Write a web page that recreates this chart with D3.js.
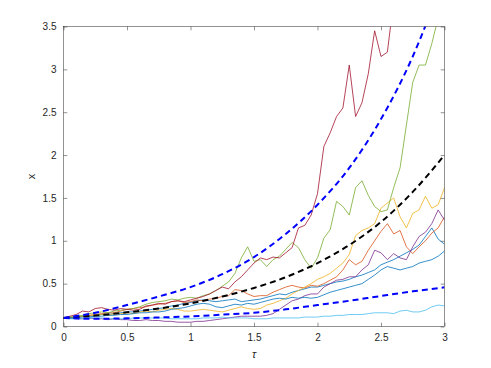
<!DOCTYPE html>
<html>
<head>
<meta charset="utf-8">
<script src="https://cdn.jsdelivr.net/npm/d3@7"></script>
<style>
  body { margin: 0; background: #fff; }
  text { font-family: "Liberation Sans", Helvetica, Arial, sans-serif; fill: #262626; }
</style>
</head>
<body>
<svg id="chart" width="491" height="368"></svg>
<script>
// time grid of the sampled paths (step 0.05) and of the dashed curves (step 0.25)
let tPath = d3.range(61).map(i => i / 20);
let tDash = [0, 0.25, 0.5, 0.75, 1, 1.25, 1.5, 1.75, 2, 2.25, 2.5, 2.75, 3];

// dashed curves: mean and the two bounds
let meanLine = [0.10, 0.128, 0.165, 0.21, 0.27, 0.35, 0.45, 0.575, 0.74, 0.95, 1.22, 1.57, 2.0];
let upperLine = [0.10, 0.16, 0.25, 0.35, 0.46, 0.61, 0.81, 1.08, 1.42, 1.85, 2.42, 3.15, 4.1];
let lowerLine = [0.10, 0.09, 0.095, 0.105, 0.118, 0.138, 0.16, 0.2, 0.25, 0.3, 0.356, 0.41, 0.457];

// sample paths
let pathBlue1 = [0.10, 0.10, 0.11, 0.12, 0.12, 0.13, 0.14, 0.14, 0.15, 0.16,
  0.17, 0.17, 0.18, 0.19, 0.20, 0.21, 0.22, 0.24, 0.25, 0.27,
  0.28, 0.30, 0.31, 0.30, 0.29, 0.30, 0.31, 0.32, 0.29, 0.30,
  0.31, 0.32, 0.34, 0.36, 0.38, 0.37, 0.40, 0.42, 0.44, 0.46,
  0.46, 0.48, 0.50, 0.52, 0.53, 0.55, 0.58, 0.60, 0.63, 0.66,
  0.72, 0.75, 0.78, 0.82, 0.86, 0.90, 0.95, 1.05, 1.15, 1.02, 0.96];
let pathOrange = [0.10, 0.10, 0.11, 0.12, 0.13, 0.14, 0.15, 0.16, 0.16, 0.18,
  0.20, 0.21, 0.22, 0.23, 0.25, 0.26, 0.27, 0.29, 0.30, 0.28,
  0.29, 0.31, 0.30, 0.32, 0.33, 0.35, 0.36, 0.43, 0.42, 0.38,
  0.35, 0.36, 0.36, 0.40, 0.43, 0.46, 0.48, 0.46, 0.45, 0.48,
  0.47, 0.50, 0.54, 0.58, 0.66, 0.78, 0.72, 0.76, 0.89, 1.00,
  1.11, 1.20, 1.08, 1.12, 0.93, 0.85, 0.93, 1.00, 1.09, 1.15, 1.28];
let pathYellow = [0.10, 0.11, 0.10, 0.12, 0.13, 0.13, 0.14, 0.13, 0.15, 0.15,
  0.16, 0.15, 0.17, 0.18, 0.17, 0.19, 0.20, 0.21, 0.20, 0.18,
  0.18, 0.19, 0.20, 0.19, 0.18, 0.17, 0.19, 0.21, 0.23, 0.21,
  0.20, 0.21, 0.25, 0.27, 0.30, 0.33, 0.38, 0.42, 0.46, 0.50,
  0.55, 0.58, 0.62, 0.68, 0.74, 0.84, 1.06, 1.12, 1.15, 1.20,
  1.38, 1.44, 1.50, 1.28, 1.15, 1.32, 1.36, 1.52, 1.38, 1.42, 1.62];
let pathPurple = [0.10, 0.10, 0.09, 0.09, 0.10, 0.09, 0.09, 0.08, 0.09, 0.08,
  0.08, 0.07, 0.07, 0.08, 0.07, 0.07, 0.06, 0.06, 0.05, 0.05,
  0.05, 0.06, 0.06, 0.07, 0.08, 0.09, 0.10, 0.11, 0.12, 0.12,
  0.12, 0.12, 0.13, 0.15, 0.20, 0.25, 0.30, 0.32, 0.36, 0.38,
  0.38, 0.46, 0.50, 0.54, 0.55, 0.58, 0.58, 0.66, 0.72, 0.89,
  0.86, 0.78, 0.85, 0.80, 0.78, 0.93, 1.05, 1.10, 1.20, 1.36, 1.24];
let pathGreen = [0.10, 0.11, 0.12, 0.13, 0.15, 0.16, 0.17, 0.16, 0.18, 0.19,
  0.20, 0.21, 0.23, 0.26, 0.28, 0.29, 0.30, 0.32, 0.31, 0.33,
  0.34, 0.33, 0.36, 0.38, 0.42, 0.47, 0.52, 0.62, 0.80, 0.93,
  0.76, 0.78, 0.70, 0.78, 0.82, 0.90, 0.98, 0.92, 0.78, 0.68,
  0.80, 1.03, 1.13, 1.46, 1.40, 1.30, 1.62, 1.70, 1.53, 1.40,
  1.34, 1.36, 1.62, 1.85, 2.35, 2.85, 3.05, 3.05, 3.30, 3.60, 3.80];
let pathLightBlue = [0.10, 0.09, 0.09, 0.09, 0.10, 0.10, 0.10, 0.09, 0.09, 0.09,
  0.09, 0.10, 0.10, 0.10, 0.10, 0.10, 0.10, 0.09, 0.09, 0.09,
  0.09, 0.09, 0.10, 0.10, 0.10, 0.11, 0.10, 0.10, 0.10, 0.10,
  0.09, 0.09, 0.09, 0.10, 0.10, 0.10, 0.10, 0.10, 0.11, 0.11,
  0.11, 0.12, 0.12, 0.13, 0.13, 0.14, 0.14, 0.14, 0.15, 0.16,
  0.16, 0.16, 0.15, 0.18, 0.19, 0.17, 0.17, 0.19, 0.23, 0.25, 0.24];
let pathRed = [0.10, 0.12, 0.14, 0.18, 0.17, 0.21, 0.22, 0.20, 0.19, 0.21,
  0.20, 0.19, 0.20, 0.24, 0.25, 0.27, 0.26, 0.29, 0.30, 0.29,
  0.31, 0.33, 0.35, 0.38, 0.42, 0.46, 0.44, 0.52, 0.58, 0.66,
  0.74, 0.80, 0.78, 0.81, 0.80, 0.86, 0.92, 1.15, 1.18, 1.30,
  1.55, 2.10, 2.26, 2.45, 2.55, 3.05, 2.45, 2.61, 2.95, 3.45,
  3.15, 3.20, 3.80, 4.00, 4.20, 4.50, 4.30, 4.80, 5.00, 5.20, 5.50];
let pathBlue2 = [0.10, 0.10, 0.10, 0.11, 0.11, 0.12, 0.12, 0.13, 0.13, 0.14,
  0.14, 0.15, 0.16, 0.16, 0.17, 0.17, 0.18, 0.20, 0.21, 0.22,
  0.24, 0.26, 0.27, 0.26, 0.23, 0.22, 0.24, 0.26, 0.25, 0.27,
  0.26, 0.28, 0.30, 0.32, 0.33, 0.32, 0.34, 0.33, 0.34, 0.33,
  0.34, 0.37, 0.40, 0.42, 0.44, 0.46, 0.48, 0.50, 0.55, 0.60,
  0.66, 0.70, 0.68, 0.66, 0.68, 0.70, 0.74, 0.76, 0.78, 0.82, 0.88];

let paths = [pathBlue1, pathOrange, pathYellow, pathPurple, pathGreen, pathLightBlue, pathRed, pathBlue2];
let pathColors = ["#0072BD", "#D95319", "#EDB120", "#7E2F8E", "#77AC30", "#4DBEEE", "#A2142F", "#0072BD"];

let xTicks = [0, 0.5, 1, 1.5, 2, 2.5, 3];
let yTicks = [0, 0.5, 1, 1.5, 2, 2.5, 3, 3.5];

let svg = d3.select("#chart");
let plotLeft = 63.5, plotRight = 444.5, plotTop = 26.5, plotBottom = 326.5;

let xScale = d3.scaleLinear().domain([0, 3]).range([plotLeft, plotRight]);
let yScale = d3.scaleLinear().domain([0, 3.5]).range([plotBottom, plotTop]);

svg.append("defs").append("clipPath").attr("id", "plotClip")
  .append("rect")
  .attr("x", plotLeft).attr("y", plotTop)
  .attr("width", plotRight - plotLeft).attr("height", plotBottom - plotTop);

let plot = svg.append("g").attr("clip-path", "url(#plotClip)");

//paths
let pathLine = d3.line()
  .x((d, i) => xScale(tPath[i]))
  .y(d => yScale(d));

paths.forEach(function(p, k) {
  plot.append("path")
    .attr("d", pathLine(p))
    .attr("fill", "none")
    .attr("stroke", pathColors[k])
    .attr("stroke-width", 0.8)
    .attr("stroke-linejoin", "round");
});

//dashed curves
let dashLine = d3.line()
  .x((d, i) => xScale(tDash[i]))
  .y(d => yScale(d))
  .curve(d3.curveMonotoneX);

[[meanLine, "#000000"], [upperLine, "#0000FF"], [lowerLine, "#0000FF"]].forEach(function(c) {
  plot.append("path")
    .attr("d", dashLine(c[0]))
    .attr("fill", "none")
    .attr("stroke", c[1])
    .attr("stroke-width", 2)
    .attr("stroke-dasharray", "6,4");
});

//axes with inward ticks on all four sides
let axisColor = "#262626";
let tickLen = 3.8;

svg.append("rect")
  .attr("x", plotLeft).attr("y", plotTop)
  .attr("width", plotRight - plotLeft).attr("height", plotBottom - plotTop)
  .attr("fill", "none")
  .attr("stroke", axisColor)
  .attr("stroke-width", 0.5);

let gx = svg.append("g").attr("transform", "translate(0," + plotBottom + ")")
  .call(d3.axisBottom(xScale).tickValues(xTicks).tickSize(-tickLen).tickPadding(7).tickFormat(d3.format("")));
let gxTop = svg.append("g").attr("transform", "translate(0," + plotTop + ")")
  .call(d3.axisTop(xScale).tickValues(xTicks).tickSize(-tickLen).tickFormat(""));
let gy = svg.append("g").attr("transform", "translate(" + plotLeft + ",0)")
  .call(d3.axisLeft(yScale).tickValues(yTicks).tickSize(-tickLen).tickPadding(7).tickFormat(d3.format("")));
let gyRight = svg.append("g").attr("transform", "translate(" + plotRight + ",0)")
  .call(d3.axisRight(yScale).tickValues(yTicks).tickSize(-tickLen).tickFormat(""));

[gx, gxTop, gy, gyRight].forEach(function(g) {
  g.select(".domain").remove();
  g.selectAll(".tick line").attr("stroke", axisColor).attr("stroke-width", 0.5);
  g.selectAll(".tick text").attr("font-size", 10).attr("fill", axisColor)
    .attr("font-family", "'Liberation Sans', Helvetica, Arial, sans-serif");
});

//axis labels
svg.append("text")
  .attr("transform", "translate(35," + ((plotTop + plotBottom) / 2) + ") rotate(-90)")
  .attr("text-anchor", "middle")
  .attr("font-size", 11)
  .text("x");

svg.append("text")
  .attr("x", (plotLeft + plotRight) / 2)
  .attr("y", 358)
  .attr("text-anchor", "middle")
  .attr("font-size", 11)
  .attr("font-style", "italic")
  .text("τ");
</script>
</body>
</html>
